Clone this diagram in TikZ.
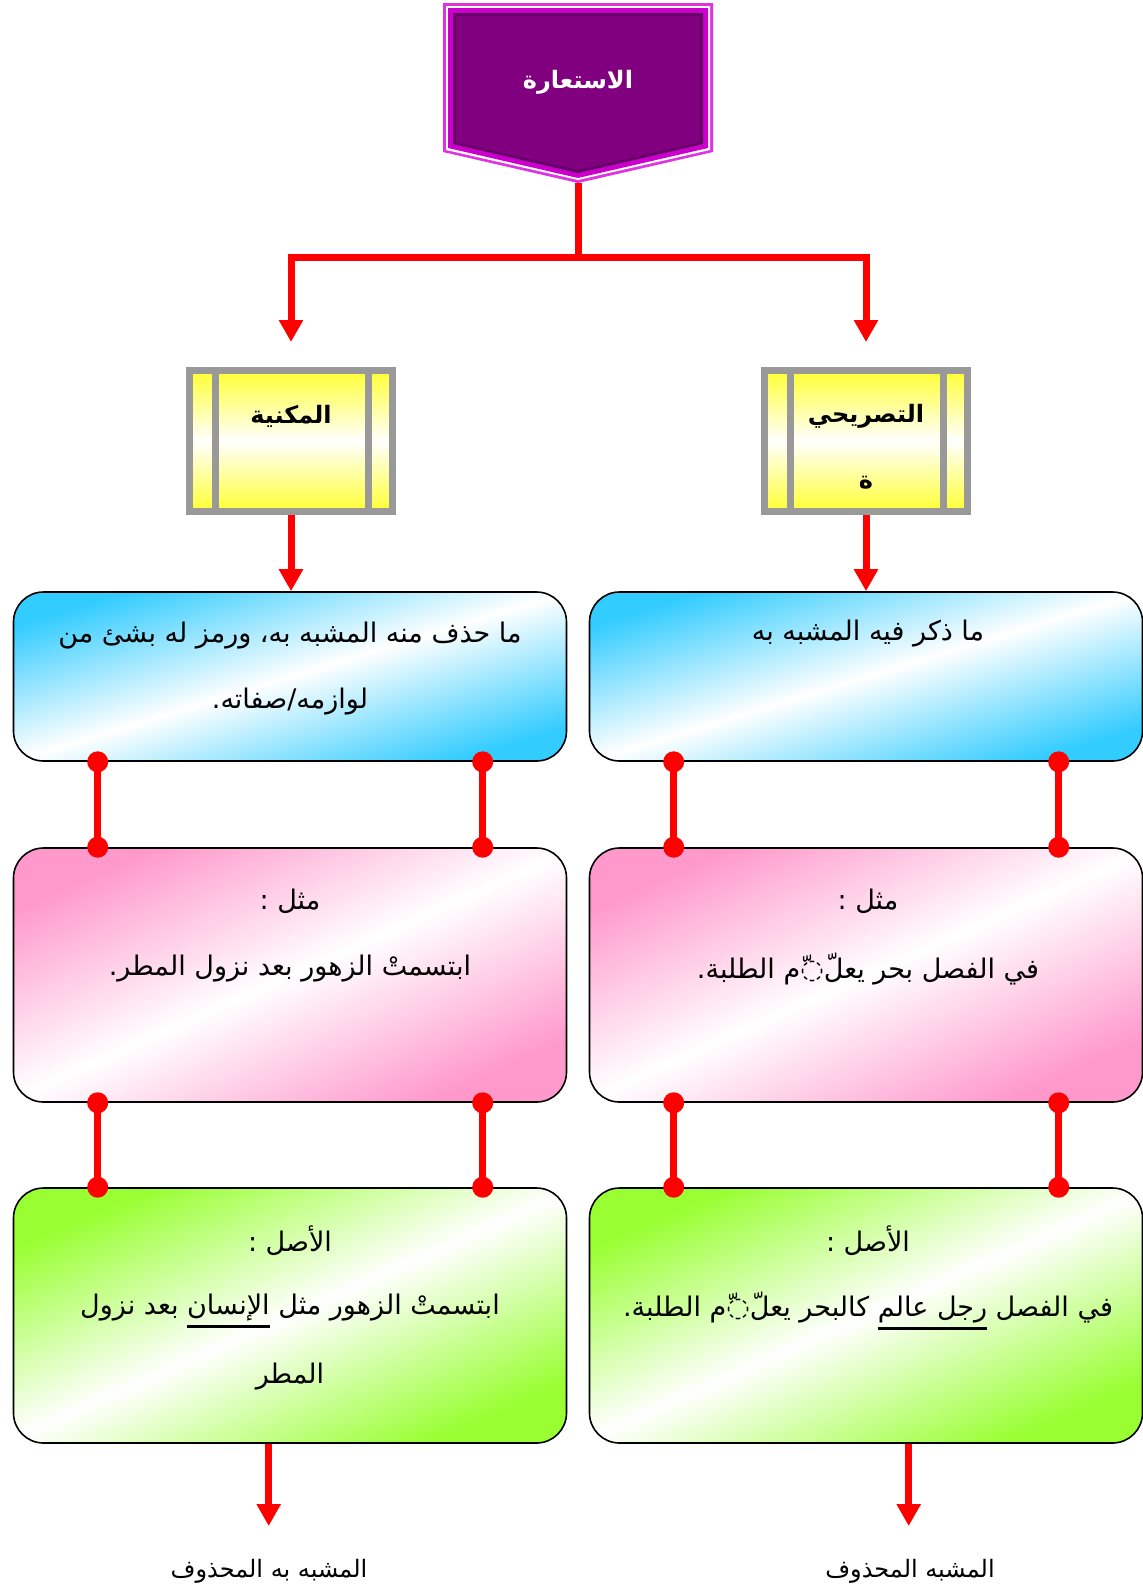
\documentclass[tikz,border=0pt]{standalone}
\usepackage{fontspec}
\TeXXeTstate=1
\newfontfamily\arabicfont[Script=Arabic]{DejaVu Sans}
\usetikzlibrary{arrows.meta,calc}
\definecolor{cyanB}{HTML}{33CCFF}
\definecolor{pinkB}{HTML}{FF99CC}
\definecolor{greenB}{HTML}{99FF33}
\definecolor{yellowB}{HTML}{FFFF33}
\definecolor{grayB}{HTML}{999999}
\definecolor{magA}{HTML}{E033E0}
\definecolor{magB}{HTML}{CC00CC}
\definecolor{purD}{HTML}{660066}
\definecolor{purF}{HTML}{800080}
\newcommand\myul[1]{\setbox0\hbox{\beginR#1\endR}\vtop{\copy0\kern4pt\hrule height 2.8pt width\wd0}}
\begin{document}
\begin{tikzpicture}[x=1pt,y=-1pt,
  link/.style={red, line width=7pt},
  tip/.style={-{Triangle[width=23pt,length=22pt]}},
  txt/.style={font=\arabicfont\fontsize{27}{32}\selectfont, inner sep=0pt, text=black},
  lbl/.style={font=\arabicfont\fontsize{24}{28}\selectfont, inner sep=0pt, text=black},
  hd/.style={font=\arabicfont\bfseries\fontsize{24}{28}\selectfont, inner sep=0pt},
  ybox/.style={draw=grayB, line width=7pt, minimum width=203pt, minimum height=141pt, inner sep=0pt,
    top color=yellowB, bottom color=yellowB, middle color=white},
  ybar/.style={draw=grayB, line width=6.5pt},
  rbox/.style={draw=black, line width=1.6pt, rounded corners=30pt, inner sep=0pt},
  bluebox/.style={rbox, minimum width=553pt, minimum height=169pt, top color=cyanB, bottom color=cyanB, middle color=white, shading angle=17},
  pinkbox/.style={rbox, minimum width=553pt, minimum height=254pt, top color=pinkB, bottom color=pinkB, middle color=white, shading angle=24},
  greenbox/.style={rbox, minimum width=553pt, minimum height=255pt, top color=greenB, bottom color=greenB, middle color=white, shading angle=24}
]
\useasboundingbox (0,0) rectangle (1143,1591);

% title banner
\fill[magA] (443,3) -- (713,3) -- (713,152) -- (578,183) -- (443,152) -- cycle;
\fill[white] (446,6) -- (710,6) -- (710,150) -- (578,180) -- (446,150) -- cycle;
\fill[magB] (448,8) -- (708,8) -- (708,148) -- (578,178) -- (448,148) -- cycle;
\fill[purD] (453,13) -- (703,13) -- (703,144) -- (578,173) -- (453,144) -- cycle;
\fill[purF] (456,16) -- (700,16) -- (700,142) -- (578,170) -- (456,142) -- cycle;
\coordinate (banpt) at (578,183);
\node[hd, text=white] (title) at (578,82) {\beginR الاستعارة\endR};

% yellow boxes
\node[ybox] (yl) at (291,441) {};
\node[ybox] (yr) at (866,441) {};
\foreach \yy in {yl,yr} {
  \draw[ybar] ($(\yy.north west)+(29.5,3.5)$) -- ($(\yy.south west)+(29.5,-3.5)$);
  \draw[ybar] ($(\yy.north east)+(-27.5,3.5)$) -- ($(\yy.south east)+(-27.5,-3.5)$);
}
\node[hd] (ytl) at (291,416) {\beginR المكنية\endR};
\node[hd] (ytr) at (866,416) {\beginR التصريحي\endR};
\node[hd] (ytr2) at (866,483) {\beginR ة\endR};

% content boxes
\node[bluebox] (bl) at (290,676.5) {};
\node[bluebox] (br) at (866,676.5) {};
\node[pinkbox] (pl) at (290,975) {};
\node[pinkbox] (pr) at (866,975) {};
\node[greenbox] (gl) at (290,1315.5) {};
\node[greenbox] (gr) at (866,1315.5) {};

% top connectors
\coordinate (jn) at (578,257);
\draw[link] (banpt) -- (jn);
\draw[link,tip] (jn) -| ($(yl.north)+(0,-25)$);
\draw[link,tip] (jn) -| ($(yr.north)+(0,-25)$);
\draw[link,tip] (yl.south) -- (yl.south |- bl.north);
\draw[link,tip] (yr.south) -- (yr.south |- br.north);

% dotted connectors
\foreach \srcn/\dstn in {bl/pl, br/pr, pl/gl, pr/gr} {
  \foreach \dx in {85,470} {
    \draw[link] ($(\srcn.south west)+(\dx,0)$) coordinate (ca) -- ($(\dstn.north west)+(\dx,0)$) coordinate (cb);
    \fill[red] (ca) circle[radius=10.5pt] (cb) circle[radius=10.5pt];
  }
}

% texts
\node[txt] (b1a) at (290,636) {\beginR ما حذف منه المشبه به، ورمز له بشئ من\endR};
\node[txt] (b1b) at (290,702) {\beginR لوازمه/صفاته.\endR};
\node[txt] (b2a) at (868,634) {\beginR ما ذكر فيه المشبه به\endR};
\node[txt] (p1a) at (290,901) {\beginR مثل :\endR};
\node[txt] (p1b) at (290,969) {\beginR ابتسمتْ الزهور بعد نزول المطر.\endR};
\node[txt] (p2a) at (868,901) {\beginR مثل :\endR};
\node[txt] (p2b) at (868,969) {\beginR في الفصل بحر يعلّ◌ّم الطلبة.\endR};
\node[txt] (g1a) at (290,1241) {\beginR الأصل :\endR};
\node[txt] (g1b) at (290,1311) {\beginR ابتسمتْ الزهور مثل \myul{الإنسان} بعد نزول\endR};
\node[txt] (g1c) at (290,1377) {\beginR المطر\endR};
\node[txt] (g2a) at (868,1241) {\beginR الأصل :\endR};
\node[txt] (g2b) at (868,1311) {\beginR في الفصل \myul{رجل عالم} كالبحر يعلّ◌ّم الطلبة.\endR};

% bottom arrows and labels
\node[lbl] (lb1) at (269,1571) {\beginR المشبه به المحذوف\endR};
\node[lbl] (lb2) at (910,1571) {\beginR المشبه المحذوف\endR};
\coordinate (s1) at ($(gl.south west)+(256,0)$);
\coordinate (s2) at ($(gr.south west)+(320,0)$);
\coordinate (e1) at (s1 |- 0,1526);
\coordinate (e2) at (s2 |- 0,1526);
\draw[link,tip] (s1) -- (e1);
\draw[link,tip] (s2) -- (e2);
\end{tikzpicture}
\end{document}
